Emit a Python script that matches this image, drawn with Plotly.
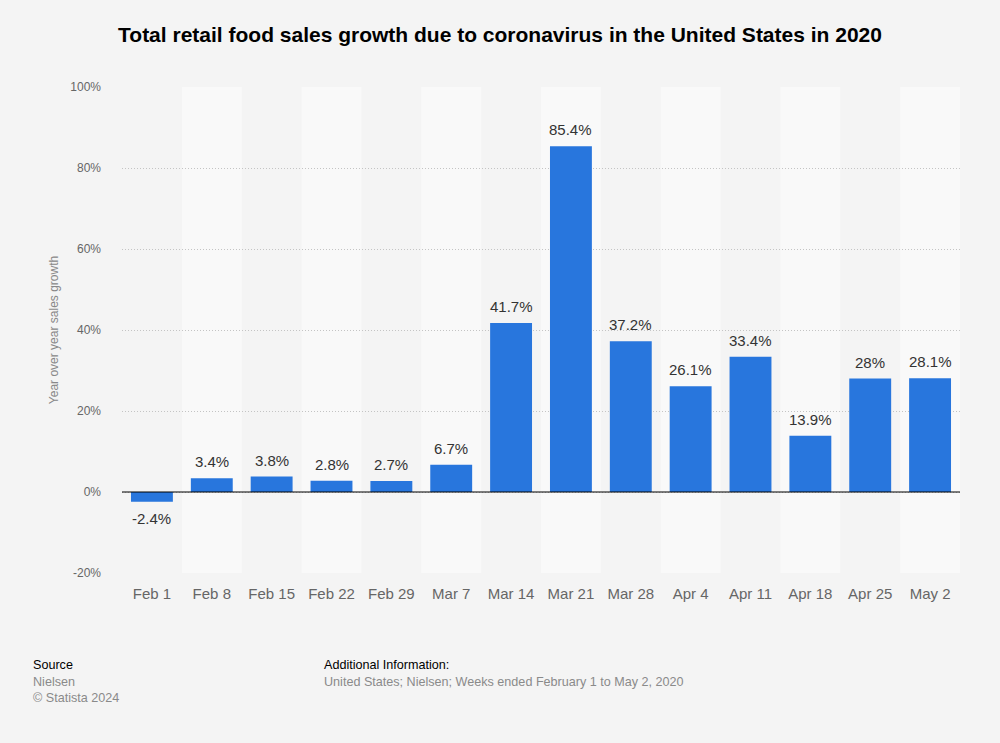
import plotly.graph_objects as go

categories = ["Feb 1", "Feb 8", "Feb 15", "Feb 22", "Feb 29", "Mar 7", "Mar 14",
              "Mar 21", "Mar 28", "Apr 4", "Apr 11", "Apr 18", "Apr 25", "May 2"]
values = [-2.4, 3.4, 3.8, 2.8, 2.7, 6.7, 41.7, 85.4, 37.2, 26.1, 33.4, 13.9, 28, 28.1]
y_ticks = [-20, 0, 20, 40, 60, 80, 100]
y_tick_labels = [f"{t}%" for t in y_ticks]

W, H = 1000, 743
ML, MR, MT, MB = 122, 40, 87, 170
PW = W - ML - MR
PH = H - MT - MB

FONT = "Liberation Sans, Arial, sans-serif"
BAR = "#2876dd"
BG = "#f4f4f4"

fig = go.Figure()
fig.add_trace(go.Bar(
    x=categories, y=values, width=0.7,
    marker=dict(color=BAR, line=dict(width=0)),
    hoverinfo="x+y",
))

shapes = []
for i, c in enumerate(categories):
    if i % 2 == 1:
        shapes.append(dict(type="rect", xref="x", yref="paper", x0=i - 0.5, x1=i + 0.5,
                           y0=0, y1=1, fillcolor="#f9f9f9", line=dict(width=0), layer="below"))
shapes.append(dict(type="line", xref="paper", yref="y", x0=0, x1=1, y0=0, y1=0,
                   line=dict(color="#000000", width=1.2), layer="above"))

annotations = []
for c, v in zip(categories, values):
    annotations.append(dict(
        x=c, y=v, xref="x", yref="y", text=f"{v:g}%", showarrow=False,
        yanchor="bottom" if v >= 0 else "top", yshift=6 if v >= 0 else -6,
        font=dict(family=FONT, size=15, color="#333333"),
    ))

def px_x(p):
    return (p - ML) / PW

def px_y(p):
    return 1 - (p - MT) / PH

foot = [
    ("Source", 31, 665, "#000000"),
    ("Nielsen", 31, 682, "#8a8a8a"),
    ("© Statista 2024", 31, 698, "#8a8a8a"),
    ("Additional Information:", 322, 665, "#000000"),
    ("United States; Nielsen; Weeks ended February 1 to May 2, 2020", 322, 682, "#8a8a8a"),
]
for t, x, y, col in foot:
    annotations.append(dict(
        x=px_x(x), y=px_y(y), xref="paper", yref="paper", text=t, showarrow=False,
        xanchor="left", yanchor="middle", font=dict(family=FONT, size=12.6, color=col),
    ))

fig.update_layout(
    width=W, height=H,
    margin=dict(l=ML, r=MR, t=MT, b=MB, pad=0),
    paper_bgcolor=BG, plot_bgcolor=BG,
    title=dict(text="<b>Total retail food sales growth due to coronavirus in the United States in 2020</b>",
               x=0.5, xanchor="center", y=1 - 35 / H, yanchor="middle",
               font=dict(family=FONT, size=21, color="#000000")),
    showlegend=False,
    bargap=0.3,
    shapes=shapes,
    annotations=annotations,
    xaxis=dict(
        type="category", range=[-0.5, len(categories) - 0.5],
        showgrid=False, zeroline=False, showline=False, ticks="",
        tickfont=dict(family=FONT, size=15, color="#666666"),
        ticklabelstandoff=10,
    ),
    yaxis=dict(
        range=[-20, 100], tickvals=y_ticks, ticktext=y_tick_labels,
        showgrid=True, gridcolor="#c4c4c4", griddash="1px,2px", gridwidth=1,
        zeroline=False, showline=False, ticks="",
        tickfont=dict(family=FONT, size=12, color="#666666"),
        ticklabelstandoff=20,
        title=dict(text="Year over year sales growth", standoff=9,
                   font=dict(family=FONT, size=12, color="#888888")),
    ),
)

fig.write_html(
    "out.html",
    config={"displayModeBar": False},
    post_script="document.body.style.margin='0';document.body.style.background='#f4f4f4';",
)
